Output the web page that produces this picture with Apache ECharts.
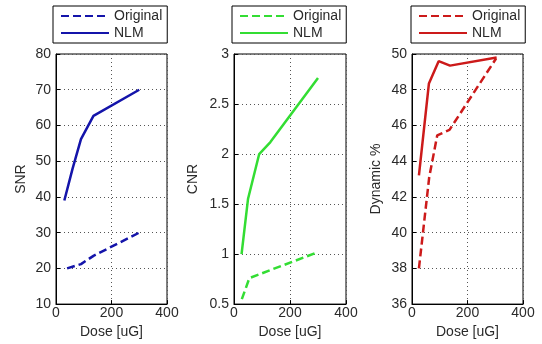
<!DOCTYPE html>
<html>
<head>
<meta charset="utf-8">
<script src="https://cdn.jsdelivr.net/npm/echarts@6/dist/echarts.min.js"></script>
<style>html,body{margin:0;padding:0;background:#fff}#c{width:542px;height:344px}</style>
</head>
<body>
<div id="c"></div>
<script>
// Data: [dose, value]
const snrOriginal = [[40, 20.0], [90, 21.2], [135, 23.5], [300, 30.0]];
const snrNLM      = [[30, 39.0], [60, 48.0], [90, 56.2], [135, 62.7], [300, 70.0]];
const cnrOriginal = [[28, 0.55], [55, 0.76], [130, 0.84], [300, 1.02]];
const cnrNLM      = [[27, 1.0], [50, 1.55], [90, 2.0], [130, 2.12], [300, 2.76]];
const dynOriginal = [[25, 38.0], [62, 43.1], [91, 45.45], [135, 45.75], [303, 49.75]];
const dynNLM      = [[25, 43.2], [61, 48.35], [96, 49.6], [137, 49.35], [305, 49.8]];

const yNames = ['SNR', 'CNR', 'Dynamic %'];
const yMin = [10, 0.5, 36];
const yMax = [80, 3, 50];
const yInterval = [10, 0.5, 2];
const xMin = 0, xMax = 400, xInterval = 200;
const colors = ['#1414aa', '#33dd33', '#cc1a1a'];
const prefixes = ['SNR', 'CNR', 'DYN'];
const originals = [snrOriginal, cnrOriginal, dynOriginal];
const nlms = [snrNLM, cnrNLM, dynNLM];

const gridLeft = [56, 234, 412];
const gridWidth = [111, 112, 111];
const nameGaps = [28, 34, 29];
const legendLeft = [53, 232, 411];

const font = 'Liberation Sans, Arial, sans-serif';
const textColor = '#2a2a2a';

const option = {
  animation: false,
  backgroundColor: '#fff',
  grid: [], xAxis: [], yAxis: [], legend: [], series: []
};

for (let i = 0; i < 3; i++) {
  option.grid.push({
    left: gridLeft[i], width: gridWidth[i], top: 54, height: 253,
    show: true, borderColor: '#000', borderWidth: 1, backgroundColor: '#fff'
  });
  option.xAxis.push({
    type: 'value', gridIndex: i, min: xMin, max: xMax, interval: xInterval,
    name: 'Dose [uG]', nameLocation: 'middle', nameGap: 8,
    nameTextStyle: { fontFamily: font, fontSize: 14, color: textColor },
    axisLine: { show: true, lineStyle: { color: '#000', width: 1 } },
    axisTick: { show: true, inside: true, length: 4, lineStyle: { color: '#000' } },
    axisLabel: { fontFamily: font, fontSize: 14, color: textColor, margin: 2 },
    splitLine: { show: true, lineStyle: { color: '#555', type: [1, 3], width: 1 } }
  });
  option.yAxis.push({
    type: 'value', gridIndex: i, min: yMin[i], max: yMax[i], interval: yInterval[i],
    name: yNames[i], nameLocation: 'middle', nameGap: nameGaps[i], nameRotate: 90,
    nameTextStyle: { fontFamily: font, fontSize: 14, color: textColor },
    axisLine: { show: true, lineStyle: { color: '#000', width: 1 } },
    axisTick: { show: true, inside: true, length: 4, lineStyle: { color: '#000' } },
    axisLabel: { fontFamily: font, fontSize: 14, color: textColor, margin: 5 },
    splitLine: { show: true, lineStyle: { color: '#555', type: [1, 3], width: 1 } }
  });
  const p = prefixes[i];
  option.legend.push({
    orient: 'vertical', left: legendLeft[i], top: 6,
    data: [p + ' Original', p + ' NLM'],
    formatter: function (n) { return n.replace(/^\S+ /, ''); },
    itemWidth: 48, itemHeight: 14, itemGap: 3, padding: [3, 5, 3, 7],
    borderColor: '#000', borderWidth: 1, backgroundColor: '#fff',
    selectedMode: false,
    itemStyle: { opacity: 0 },
    textStyle: { fontFamily: font, fontSize: 14, color: textColor }
  });
  option.series.push({
    name: p + ' Original', type: 'line', xAxisIndex: i, yAxisIndex: i,
    data: originals[i], showSymbol: false, symbol: 'none',
    lineStyle: { color: colors[i], width: 2.5, type: [8, 4] },
    itemStyle: { color: colors[i] }
  });
  option.series.push({
    name: p + ' NLM', type: 'line', xAxisIndex: i, yAxisIndex: i,
    data: nlms[i], showSymbol: false, symbol: 'none',
    lineStyle: { color: colors[i], width: 2.5, type: 'solid' },
    itemStyle: { color: colors[i] }
  });
}

const chart = echarts.init(document.getElementById('c'), null, { renderer: 'canvas' });
chart.setOption(option);
</script>
</body>
</html>
